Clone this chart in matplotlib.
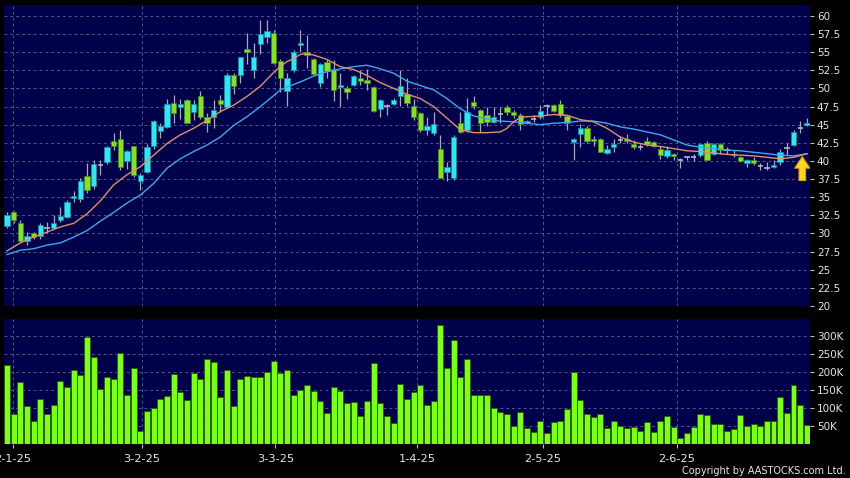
"""Candlestick chart with volume panel, AASTOCKS style."""

import matplotlib
matplotlib.use("Agg")
import matplotlib.pyplot as plt
from matplotlib.patches import FancyArrow

opens = [
    31.0, 32.9, 31.5, 29.0, 30.0, 29.7, 30.8, 30.8, 31.8, 32.3,
    34.9, 34.7, 37.9, 36.5, 39.4, 39.8, 42.7, 43.0, 40.0, 42.0,
    37.2, 38.5, 42.0, 44.1, 44.7, 48.0, 47.4, 48.4, 46.8, 49.0,
    46.0, 46.0, 48.4, 47.5, 51.8, 51.8, 55.4, 52.5, 56.1, 57.1,
    57.6, 53.8, 49.7, 52.5, 56.0, 55.0, 54.0, 50.7, 53.7, 52.7,
    50.2, 50.0, 50.5, 51.5, 51.1, 50.2, 47.2, 47.6, 47.9, 49.0,
    49.2, 47.6, 46.6, 44.2, 43.8, 41.6, 38.5, 37.7, 45.2, 44.3,
    48.1, 47.0, 46.4, 45.4, 46.5, 47.5, 46.7, 46.4, 45.3, 45.8,
    46.0, 47.6, 47.7, 47.9, 46.2, 42.6, 43.7, 44.6, 43.0, 43.0,
    41.1, 41.9, 42.9, 43.0, 42.4, 41.9, 42.8, 42.6, 41.6, 40.7,
    40.9, 40.1, 40.5, 40.6, 40.8, 42.5, 41.0, 42.3, 41.5, 41.0,
    40.5, 39.7, 40.2, 39.3, 39.0, 39.2, 39.8, 41.8, 42.2, 44.5,
    44.9,
]
highs = [
    32.9, 33.1, 31.9, 30.2, 30.2, 31.5, 31.6, 32.5, 33.7, 34.6,
    35.9, 37.7, 39.7, 40.1, 40.1, 42.1, 43.9, 44.2, 41.5, 42.1,
    38.3, 42.3, 45.6, 45.3, 48.6, 49.1, 48.6, 48.6, 48.4, 49.6,
    46.6, 48.4, 49.1, 52.1, 52.1, 54.4, 57.7, 56.2, 59.4, 59.4,
    58.0, 54.1, 52.1, 55.3, 58.1, 57.3, 54.2, 53.5, 54.0, 53.9,
    52.1, 50.4, 51.8, 52.5, 52.7, 50.4, 48.6, 47.9, 48.7, 52.6,
    51.5, 48.5, 46.8, 46.1, 46.8, 43.6, 39.9, 43.6, 46.8, 48.7,
    49.0, 47.2, 47.5, 47.4, 47.5, 47.7, 47.0, 46.6, 45.7, 46.3,
    47.7, 47.9, 47.9, 48.4, 46.3, 43.1, 45.1, 44.8, 43.4, 43.1,
    42.2, 43.0, 43.4, 43.7, 42.9, 42.3, 43.3, 42.7, 42.0, 42.0,
    41.1, 40.4, 40.6, 41.0, 42.4, 42.8, 42.5, 42.5, 41.9, 41.5,
    40.7, 40.3, 40.5, 39.7, 39.9, 40.1, 41.7, 42.5, 44.3, 45.5,
    45.9,
]
lows = [
    30.8, 31.5, 28.8, 28.4, 29.3, 29.3, 30.0, 30.6, 31.6, 32.1,
    34.4, 34.4, 35.6, 36.2, 38.0, 39.6, 41.5, 38.8, 38.9, 37.8,
    36.0, 38.3, 41.7, 43.2, 44.6, 45.2, 45.8, 45.2, 45.6, 45.8,
    44.0, 44.5, 46.8, 47.3, 49.3, 50.7, 53.3, 51.4, 54.8, 56.2,
    53.3, 49.5, 47.6, 52.3, 55.0, 52.8, 51.8, 50.2, 51.4, 48.3,
    47.5, 48.6, 50.3, 50.5, 49.8, 46.8, 46.0, 46.3, 47.7, 47.6,
    47.6, 45.7, 44.0, 43.6, 43.6, 37.6, 37.3, 37.4, 43.9, 44.0,
    47.2, 44.0, 44.8, 45.2, 45.2, 46.3, 45.9, 44.3, 45.1, 45.4,
    45.8, 46.3, 46.8, 46.1, 44.3, 40.2, 41.9, 42.5, 42.0, 41.2,
    41.0, 41.2, 42.5, 42.5, 41.7, 41.5, 42.1, 41.9, 40.3, 40.4,
    40.1, 39.0, 40.2, 40.0, 40.6, 40.1, 40.8, 41.0, 41.0, 40.6,
    39.8, 39.1, 39.4, 38.7, 38.7, 39.0, 39.4, 40.8, 42.0, 43.8,
    44.8,
]
closes = [
    32.6, 31.8, 29.0, 29.6, 29.5, 31.2, 30.8, 31.4, 32.4, 34.4,
    35.1, 37.2, 36.0, 39.6, 39.4, 41.9, 42.1, 39.1, 41.4, 38.1,
    38.0, 41.9, 45.5, 44.8, 47.9, 46.6, 47.8, 45.3, 47.9, 46.0,
    45.2, 47.0, 47.8, 51.8, 50.3, 54.3, 55.0, 54.3, 57.5, 57.9,
    53.5, 51.4, 51.5, 55.0, 56.3, 54.6, 52.0, 53.3, 52.4, 49.8,
    50.5, 49.5, 51.7, 51.0, 50.8, 46.9, 48.4, 47.6, 48.4, 50.4,
    48.0, 46.1, 44.3, 44.8, 45.1, 37.7, 39.1, 43.3, 44.0, 46.8,
    47.6, 45.3, 45.4, 46.0, 46.5, 46.8, 46.4, 45.1, 45.5, 45.8,
    46.9, 47.6, 46.9, 46.3, 45.2, 43.0, 44.5, 42.7, 42.7, 41.3,
    41.7, 42.4, 42.9, 42.7, 41.9, 41.9, 42.4, 42.0, 40.8, 41.5,
    40.7, 40.1, 40.5, 40.6, 42.3, 40.2, 42.3, 41.5, 41.5, 40.8,
    40.0, 40.1, 39.7, 39.3, 39.0, 39.5, 41.3, 41.8, 44.0, 44.5,
    45.3,
]
volumes_k = [
    219, 83, 172, 106, 65, 125, 84, 108, 175, 157,
    204, 190, 296, 241, 153, 185, 179, 251, 137, 211,
    37, 92, 100, 125, 134, 193, 145, 123, 196, 179,
    235, 226, 129, 206, 106, 181, 188, 186, 185, 198,
    229, 197, 205, 135, 150, 163, 147, 120, 87, 158,
    146, 113, 115, 77, 119, 224, 113, 77, 59, 166,
    125, 143, 164, 107, 119, 329, 210, 289, 185, 235,
    136, 137, 135, 101, 89, 82, 50, 88, 44, 33,
    64, 30, 61, 64, 96, 200, 122, 83, 76, 83,
    43, 65, 49, 44, 47, 35, 62, 32, 64, 77,
    47, 17, 30, 46, 82, 79, 55, 55, 35, 42,
    79, 51, 55, 50, 63, 64, 129, 85, 164, 107,
    53,
]

ma_fast_idx = [0, 2, 4, 6, 8, 10, 12, 14, 16, 18, 20, 22, 24, 26, 28, 30, 32, 34,
               36, 38, 40, 41, 42, 43, 44, 45, 46, 48, 50, 52, 54, 56, 58, 60, 62,
               64, 66, 68, 70, 72, 74, 75, 76, 77, 78, 80, 82, 84, 86, 88, 90, 92,
               94, 96, 98, 100, 102, 104, 106, 108, 110, 112, 114, 116, 118, 120]
ma_fast = [27.6, 28.7, 29.5, 30.2, 30.9, 31.4, 32.7, 34.5, 36.7, 38.1, 39.2, 40.8,
           42.4, 43.6, 44.5, 45.6, 46.8, 47.7, 48.9, 50.3, 52.2, 53.0, 53.7, 54.1,
           54.7, 54.8, 54.6, 54.0, 53.0, 52.6, 51.8, 50.8, 50.0, 49.2, 48.6, 47.5,
           45.9, 44.3, 43.9, 43.9, 44.0, 44.5, 45.4, 46.0, 46.1, 46.2, 46.4, 46.3,
           45.7, 45.4, 44.5, 43.3, 42.6, 42.2, 42.0, 41.7, 41.4, 41.3, 41.1, 40.9,
           40.8, 40.7, 40.5, 40.3, 40.5, 41.0]
ma_slow_idx = [0, 2, 4, 6, 8, 10, 12, 14, 16, 18, 20, 22, 24, 26, 28, 30, 32, 34,
               36, 38, 40, 41, 42, 44, 46, 48, 50, 52, 54, 56, 58, 60, 62, 64, 66,
               68, 70, 72, 74, 76, 78, 80, 82, 84, 86, 88, 90, 92, 94, 96, 98, 100,
               102, 104, 106, 108, 110, 112, 114, 116, 118, 120]
ma_slow = [27.1, 27.7, 27.9, 28.4, 28.7, 29.5, 30.4, 31.7, 32.9, 34.2, 35.3, 36.9,
           39.0, 40.3, 41.3, 42.2, 43.3, 44.9, 46.1, 47.5, 49.0, 49.8, 50.2, 50.9,
           51.7, 52.3, 52.7, 53.0, 53.2, 52.7, 52.1, 51.0, 50.4, 49.8, 48.6, 47.2,
           46.2, 45.8, 45.5, 45.4, 45.2, 45.0, 45.2, 45.3, 45.5, 45.5, 45.2, 44.7,
           44.4, 44.0, 43.6, 42.9, 42.2, 41.9, 41.7, 41.5, 41.4, 41.2, 41.0, 40.8,
           40.7, 41.0]

date_ticks = [0.9, 20.2, 40.25, 61.5, 80.4, 100.5]
date_labels = ["2-1-25", "3-2-25", "3-3-25", "1-4-25", "2-5-25", "2-6-25"]
price_ticks = [20, 22.5, 25, 27.5, 30, 32.5, 35, 37.5, 40, 42.5, 45, 47.5,
               50, 52.5, 55, 57.5, 60]
volume_ticks = [50, 100, 150, 200, 250, 300]

NAVY = "#00004a"
GRID = "#55558e"
TEXT = "#e6e6e6"
UP = "#35e3f2"
DOWN = "#84e02c"
DOJI = "#b4b4cc"


def _style_axis(ax):
    ax.set_facecolor(NAVY)
    for spine in ax.spines.values():
        spine.set_visible(False)
    ax.yaxis.tick_right()
    ax.tick_params(axis="y", colors="#bbbbbb", labelcolor=TEXT, length=3,
                   width=0.8, pad=2, labelsize=7.5)
    ax.tick_params(axis="x", colors="#bbbbbb", labelcolor=TEXT, length=3,
                   width=0.8, pad=4, labelsize=8.2)
    ax.grid(True, color=GRID, linestyle=(0, (3, 3)), linewidth=0.7)
    ax.set_axisbelow(True)
    ax.set_xlim(-0.45, len(closes) - 0.55)
    ax.set_xticks(date_ticks)


fig = plt.figure(figsize=(8.5, 4.78), dpi=100, facecolor="black")
ax_p = fig.add_axes([0.0047, 0.3598, 0.9482, 0.6297])
ax_v = fig.add_axes([0.0047, 0.0711, 0.9482, 0.2615])

_style_axis(ax_p)
ax_p.set_ylim(20, 61.5)
ax_p.set_yticks(price_ticks)
ax_p.set_yticklabels([f"{t:g}" for t in price_ticks])
ax_p.set_xticklabels([])
ax_p.tick_params(axis="x", length=0)

xs = list(range(len(closes)))
ax_p.vlines(xs, lows, highs, color="#a8a8bc", linewidth=0.9, zorder=2)
for x, o, c in zip(xs, opens, closes):
    if abs(c - o) < 0.05:
        ax_p.hlines(o, x - 0.4, x + 0.4, color=DOJI, linewidth=1.2, zorder=3)
        continue
    color = UP if c > o else DOWN
    edge = "#1a8fa0" if c > o else "#4a8a18"
    ax_p.bar(x, abs(c - o), bottom=min(o, c), width=0.84, color=color,
             edgecolor=edge, linewidth=0.5, zorder=3)

ax_p.plot(ma_slow_idx, ma_slow, color="#3fa6f0", linewidth=1.0, zorder=4)
ax_p.plot(ma_fast_idx, ma_fast, color="#e0906a", linewidth=1.0, zorder=4)

ax_p.add_patch(FancyArrow(119.3, 37.3, 0, 3.3, width=1.0, head_width=2.3,
                          head_length=1.6, length_includes_head=True,
                          facecolor="#ffd628", edgecolor="#d89a00",
                          linewidth=0.8, zorder=5))

_style_axis(ax_v)
ax_v.bar(xs, volumes_k, width=0.86, color="#7dff1e", edgecolor="#2c5a00",
         linewidth=0.6, zorder=3)
ax_v.set_ylim(0, 346)
ax_v.set_yticks(volume_ticks)
ax_v.set_yticklabels([f"{t}K" for t in volume_ticks])
ax_v.set_xticklabels(date_labels)

fig.text(0.995, 0.004, "Copyright by AASTOCKS.com Ltd.", color=TEXT,
         fontsize=7.0, ha="right", va="bottom")

fig.savefig("out.png", dpi=100, facecolor="black")
